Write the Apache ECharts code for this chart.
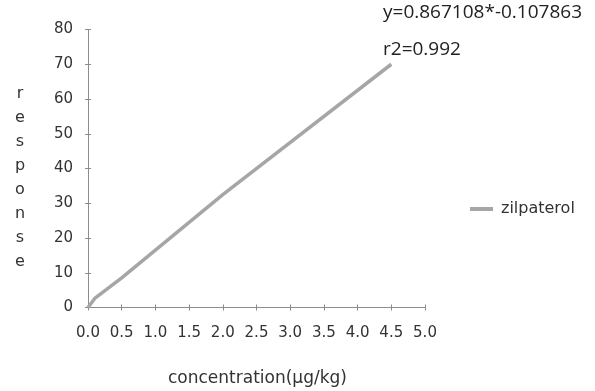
<!DOCTYPE html>
<html><head><meta charset="utf-8">
<script src="https://cdn.jsdelivr.net/npm/echarts@6/dist/echarts.min.js"></script>
<style>html,body{margin:0;padding:0;background:#fff}#c{width:595px;height:391px}</style>
</head><body><div id="c"></div>
<script>
const seriesName = 'zilpaterol';
const concentration = [0, 0.1, 0.5, 1.0, 2.0, 4.5];
const response = [0, 2.6, 8.5, 16.5, 32.5, 70];
const xTicks = [0, 0.5, 1.0, 1.5, 2.0, 2.5, 3.0, 3.5, 4.0, 4.5, 5.0];
const yTicks = [0, 10, 20, 30, 40, 50, 60, 70, 80];
const equationText = 'y=0.867108*-0.107863';
const r2Text = 'r2=0.992';
const xTitle = 'concentration(μg/kg)';
const yTitle = 'response';

const chart = echarts.init(document.getElementById('c'), null, {renderer:'canvas'});
const axisColor = '#8c8c8c';
const labelFont = {color:'#333', fontSize:15, fontFamily:'DejaVu Sans'};
const grid = {left:88, right:170, top:29.5, bottom:83.5};
const baseX = {type:'value', min:0, max:5, interval:0.5, splitLine:{show:false}};
const baseY = {type:'value', min:0, max:80, interval:10, splitLine:{show:false}};
chart.setOption({
  animation:false,
  grid: grid,
  xAxis:[
    Object.assign({}, baseX, {
      axisLine:{show:true, lineStyle:{color:axisColor, width:1}},
      axisTick:{show:true, length:3, lineStyle:{color:axisColor}},
      axisLabel:Object.assign({margin:18, formatter:v=>v.toFixed(1)}, labelFont)
    }),
    Object.assign({}, baseX, {position:'bottom',
      axisLine:{show:false}, axisTick:{show:true, inside:true, length:3, lineStyle:{color:axisColor}},
      axisLabel:{show:false}})
  ],
  yAxis:[
    Object.assign({}, baseY, {
      axisLine:{show:true, lineStyle:{color:axisColor, width:1}},
      axisTick:{show:true, length:3, lineStyle:{color:axisColor}},
      axisLabel:Object.assign({margin:15}, labelFont)
    }),
    Object.assign({}, baseY, {position:'left',
      axisLine:{show:false}, axisTick:{show:true, inside:true, length:3, lineStyle:{color:axisColor}},
      axisLabel:{show:false}})
  ],
  legend:{
    left:465, top:196, icon:'rect', itemWidth:23, itemHeight:4,
    data:[seriesName],
    textStyle:{color:'#333', fontSize:16, fontFamily:'DejaVu Sans', padding:[0,0,0,3]}
  },
  series:[{
    name:seriesName, type:'line', showSymbol:false, symbol:'none',
    data: concentration.map((x,i)=>[x, response[i]]),
    lineStyle:{color:'#a6a6a6', width:3.5}, itemStyle:{color:'#a6a6a6'}
  }],
  graphic:[
    {type:'text', left:383, top:3, style:{text:equationText, fill:'#222', font:'19px "Open Sans"'}},
    {type:'text', left:383, top:40, style:{text:r2Text, fill:'#222', font:'19px "Open Sans"'}},
    {type:'text', left:168, top:370, style:{text:xTitle, fill:'#333', font:'17px "DejaVu Sans"'}},
    {type:'text', x:20, y:82, style:{text:yTitle.split('').join('\n'), fill:'#333', font:'16px "DejaVu Sans"', align:'center', lineHeight:24}}
  ]
});
</script></body></html>
